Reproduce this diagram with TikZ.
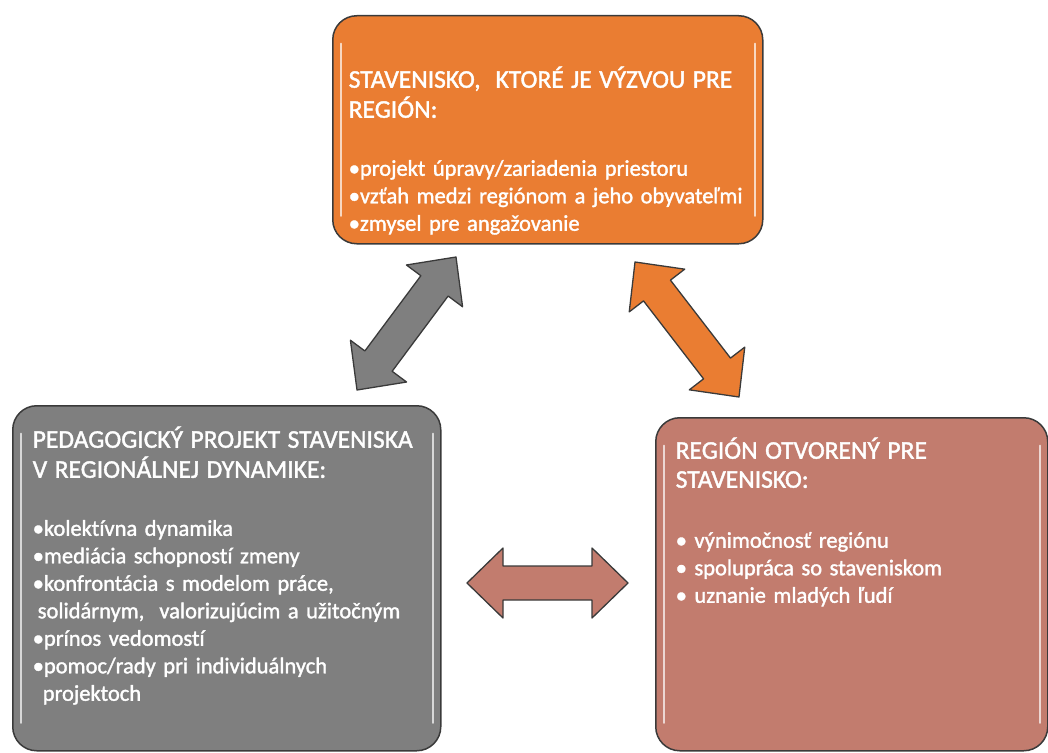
\documentclass[tikz,border=0pt]{standalone}
\usepackage{fontspec}
\setmainfont{Carlito}[Ligatures=NoCommon, FakeBold=1.5]
\usetikzlibrary{calc}

\definecolor{stavorange}{HTML}{EA7D32}
\definecolor{pedgray}{HTML}{7F7F7F}
\definecolor{regrose}{HTML}{C27C6E}
\definecolor{edgedark}{HTML}{3A3A3A}

\begin{document}
\begin{tikzpicture}[
        x=1pt, y=-1pt,
        panel/.style={rectangle, draw=edgedark, line width=1.5pt, rounded corners=24pt, fill=#1,
            anchor=north west, align=left, inner ysep=0pt, text=white,
            font=\fontsize{22.5}{27.5}\selectfont,
            path picture={
                \draw[white, opacity=.7, line width=2.2pt, line cap=round]
                    ([xshift=8pt,yshift=-28pt]path picture bounding box.north west) --
                    ([xshift=8pt,yshift=28pt]path picture bounding box.south west);
                \draw[white, opacity=.7, line width=2.2pt, line cap=round]
                    ([xshift=-8pt,yshift=-28pt]path picture bounding box.north east) --
                    ([xshift=-8pt,yshift=28pt]path picture bounding box.south east);
            }},
        fatarrow/.style={draw=edgedark, line width=1.3pt, line join=round, fill=#1,
            to path={let \p1=(\tikztostart), \p2=(\tikztotarget),
                \n1={atan2(\y2-\y1,\x2-\x1)}, \n2={veclen(\x2-\x1,\y2-\y1)} in
                [shift={(\p1)}, rotate=\n1]
                (0pt,0pt) -- (36pt,35pt) -- (36pt,17pt) -- ({\n2*1pt-36pt},17pt)
                -- ({\n2*1pt-36pt},35pt) -- ({\n2*1pt},0pt) -- ({\n2*1pt-36pt},-35pt)
                -- ({\n2*1pt-36pt},-17pt) -- (36pt,-17pt) -- (36pt,-35pt) -- cycle}}
    ]
        \useasboundingbox (0,0) rectangle (1048,752);

        % Top box
        \node[panel=stavorange, inner xsep=16pt, text width=398pt, text height=72pt, text depth=156pt] (stav) at (332,15)
            {{\fontsize{25.5}{30}\selectfont STAVENISKO,\ \ KTORÉ JE VÝZVOU PRE\\[2.5pt]
             REGIÓN:}\\[30.5pt]
             •projekt úpravy/zariadenia priestoru\\
             •vzťah medzi regiónom a jeho obyvateľmi\\
             •zmysel pre angažovanie};

        % Left box
        \node[panel=pedgray, inner xsep=20pt, text width=388pt, text height=42pt, text depth=303pt] (ped) at (12,405)
            {{\fontsize{25.5}{30}\selectfont PEDAGOGICKÝ PROJEKT STAVENISKA\\[2.5pt]
             V REGIONÁLNEJ DYNAMIKE:}\\[30.5pt]
             •kolektívna dynamika\\
             •mediácia schopností zmeny\\
             •konfrontácia s modelom práce,\\
             \hspace*{5pt}solidárnym,\ \ valorizujúcim a užitočným\\
             •prínos vedomostí\\
             •pomoc/rady pri individuálnych\\
             \hspace*{10pt}projektoch};

        % Right box
        \node[panel=regrose, inner xsep=20pt, text width=352pt, text height=41pt, text depth=292pt] (reg) at (655,417)
            {{\fontsize{25.5}{30}\selectfont REGIÓN OTVORENÝ PRE\\[1.5pt]
             STAVENISKO:}\\[32.5pt]
             • výnimočnosť regiónu\\
             • spolupráca so staveniskom\\
             • uznanie mladých ľudí};

        % Arrow ends
        \coordinate (pedtip) at (357,390);
        \coordinate (stavtipl) at (456,257);
        \coordinate (stavtipr) at (635,262);
        \coordinate (regtipt) at (739,397);
        \coordinate (pedtipr) at (467,583);
        \coordinate (regtipl) at (628,583);

        % Double arrows
        \path[fatarrow=pedgray] (pedtip) to (stavtipl);
        \path[fatarrow=stavorange] (stavtipr) to (regtipt);
        \path[fatarrow=regrose] (pedtipr) to (regtipl);

    \end{tikzpicture}
\end{document}
